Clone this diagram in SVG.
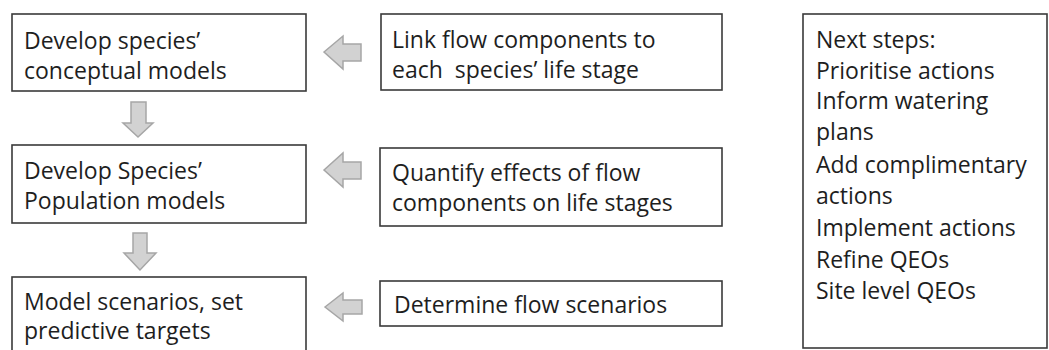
<svg xmlns="http://www.w3.org/2000/svg" width="1049" height="350" viewBox="0 0 1049 350">
  <style>
    .box { fill: #ffffff; stroke: #3a3a3a; stroke-width: 1.6; }
    .label { font-family: "Open Sans", "Liberation Sans", sans-serif; font-size: 23px; fill: #1e1e1e; }
    .arrow { fill: #d2d2d2; stroke: #a6a6a6; stroke-width: 1.5; stroke-linejoin: miter; }
  </style>
  <rect width="1049" height="350" fill="#ffffff"/>

  <!-- left column: modelling steps -->
  <g id="conceptual-models">
    <rect class="box" x="12" y="14" width="294" height="77"/>
    <text class="label" x="24" y="49">Develop species’</text>
    <text class="label" x="24" y="79">conceptual models</text>
  </g>
  <g id="population-models">
    <rect class="box" x="12" y="145" width="294" height="78"/>
    <text class="label" x="24" y="179">Develop Species’</text>
    <text class="label" x="24" y="209">Population models</text>
  </g>
  <g id="model-scenarios">
    <rect class="box" x="12" y="277" width="294" height="90"/>
    <text class="label" x="24" y="310">Model scenarios, set</text>
    <text class="label" x="24" y="339">predictive targets</text>
  </g>

  <!-- middle column: flow inputs -->
  <g id="link-flow">
    <rect class="box" x="381" y="14" width="341" height="76"/>
    <text class="label" x="392" y="48">Link flow components to</text>
    <text class="label" x="392" y="78">each&#160; species’ life stage</text>
  </g>
  <g id="quantify-effects">
    <rect class="box" x="380" y="148" width="342" height="78"/>
    <text class="label" x="392" y="181">Quantify effects of flow</text>
    <text class="label" x="392" y="211">components on life stages</text>
  </g>
  <g id="flow-scenarios">
    <rect class="box" x="380" y="281" width="342" height="45"/>
    <text class="label" x="394" y="313">Determine flow scenarios</text>
  </g>

  <!-- right column: next steps list -->
  <g id="next-steps">
    <rect class="box" x="803" y="14" width="244" height="334"/>
    <text class="label" x="816" y="48">Next steps:</text>
    <text class="label" x="816" y="79">Prioritise actions</text>
    <text class="label" x="816" y="109">Inform watering</text>
    <text class="label" x="816" y="140">plans</text>
    <text class="label" x="816" y="173">Add complimentary</text>
    <text class="label" x="816" y="204">actions</text>
    <text class="label" x="816" y="236">Implement actions</text>
    <text class="label" x="816" y="268">Refine QEOs</text>
    <text class="label" x="816" y="299">Site level QEOs</text>
  </g>

  <!-- block arrows -->
  <g id="connectors">
    <path class="arrow" d="M324,52 L343,36 L343,44 L361,44 L361,61 L343,61 L343,69 Z"/>
    <path class="arrow" d="M324,170 L343,153 L343,162 L361,162 L361,179 L343,179 L343,187 Z"/>
    <path class="arrow" d="M325,307 L343,293 L343,300 L362,300 L362,314 L343,314 L343,321 Z"/>
    <path class="arrow" d="M138,137 L123,123 L131,123 L131,102 L146,102 L146,123 L153,123 Z"/>
    <path class="arrow" d="M140,270 L124,253 L133,253 L133,233 L147,233 L147,253 L156,253 Z"/>
  </g>
</svg>
